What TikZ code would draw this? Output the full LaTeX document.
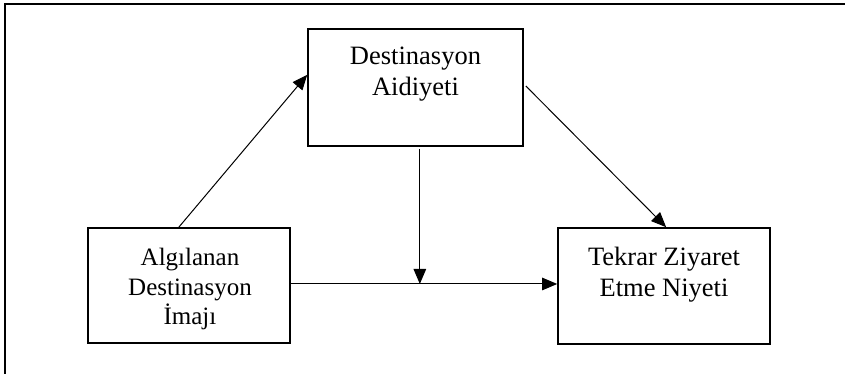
\documentclass[tikz,border=0pt]{standalone}
\usepackage{fontspec}
\setmainfont{Liberation Serif}
\usetikzlibrary{arrows.meta,calc}
\tikzset{
  box/.style={draw, line width=1.6pt, inner sep=0pt, rectangle},
  lbl/.style={anchor=base, inner sep=0pt, font=\fontsize{26.5pt}{30pt}\selectfont},
  lbls/.style={anchor=base, inner sep=0pt, font=\fontsize{25pt}{29pt}\selectfont},
  conn/.style={line width=1pt, -{Triangle[length=15pt,width=12.5pt]}},
  frame/.style={line width=1.6pt}
}
\begin{document}
\begin{tikzpicture}[x=1pt,y=-1pt]
\useasboundingbox (0,0) rectangle (845,374);
\draw[frame] (845,4) -- (5,4) -- (5,374);
% boxes
\node[box, minimum width=215pt, minimum height=117pt] (T) at (415.5,87.5) {};
\node[box, minimum width=202pt, minimum height=115pt] (L) at (189,285.5) {};
\node[box, minimum width=212pt, minimum height=116pt] (R) at (664,286) {};
% texts
\node[lbl] (t1) at (415.5,65) {Destinasyon};
\node[lbl] (t2) at (415.5,96) {Aidiyeti};
\node[lbls] (l1) at (190,265) {Algılanan};
\node[lbls] (l2) at (190,295) {Destinasyon};
\node[lbls] (l3) at (190,324) {İmajı};
\node[lbl] (r1) at (664,265) {Tekrar Ziyaret};
\node[lbl] (r2) at (664,296) {Etme Niyeti};
% connection points
\coordinate (Lt) at ($(L.north west)!0.45!(L.north east)$);
\coordinate (Tw) at ($(T.north west)!0.393!(T.south west)$);
\coordinate (Te) at ($(T.north east)!0.487!(T.south east)+(2,0)$);
\coordinate (Rn) at ($(R.north west)!0.51!(R.north east)$);
\coordinate (Ts) at ($(T.south west)!0.52!(T.south east)+(0,2)$);
\coordinate (Le) at ($(L.north east)!0.487!(L.south east)$);
\coordinate (J) at (Ts |- Le);
% connectors
\draw[conn] (Lt) -- (Tw);
\draw[conn] (Te) -- (Rn);
\draw[conn] (Ts) -- (J);
\draw[conn] (Le) -- (R.west |- Le);
\end{tikzpicture}
\end{document}
